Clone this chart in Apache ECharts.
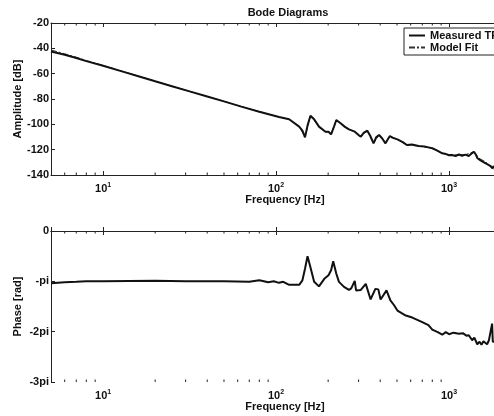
<!DOCTYPE html>
<html><head><meta charset="utf-8">
<script src="https://cdn.jsdelivr.net/npm/echarts@6/dist/echarts.min.js"></script>
<style>html,body{margin:0;padding:0;background:#fff}#c{width:494px;height:416px}</style>
</head><body><div id="c"></div>
<script>
// ---- data ----
const ampFreq = [5,6,7,8,10,13,16,20,25,32,40,50,63,80,104,119,136,142,147,152,158,166,177,193,201,208,216,223,236,250,264,285,290,300,309,322,337,350,366,380,394,410,429,442,455,470,503,540,570,610,667,720,760,800,850,914,960,1000,1040,1090,1140,1190,1247,1300,1340,1393,1430,1460,1490,1520,1560,1590,1620,1660,1700,1740,1774,1810,1850,1900];
const ampMeasured = [-42.5,-45.0,-47.6,-50.1,-53.8,-58.4,-62.0,-66.0,-69.9,-74.2,-78.0,-81.9,-86.0,-90.0,-94.2,-96.0,-101.8,-105,-110.3,-101,-93.2,-96,-101.8,-105.8,-105.8,-107.9,-102,-96.6,-99.2,-102,-104,-105.8,-104.3,-108.5,-109.7,-106.5,-105,-109,-115,-110,-108.4,-111,-115,-112,-109.2,-110.5,-111.9,-114,-116.3,-116,-117.1,-117.5,-118.2,-118.9,-120.5,-122.9,-123.5,-124.5,-124.2,-125,-123.8,-124.8,-123.9,-125,-123.5,-121.6,-124,-126.8,-125.5,-128.5,-127,-130,-129.5,-131.5,-130.5,-133,-134.7,-133,-136,-138];
const modelFreq = [5,6,7,8,10,13,16,20,25,32,40,50,63,80,104,119,136,147,158,177,193,208,223,264,285,309,337,366,394,429,455,503,570,667,800,914,1040,1247,1393,1490,1620,1774,1900];
const modelAmp = [-41.3,-44.3,-47.0,-49.6,-53.5,-58.2,-61.9,-66.0,-69.9,-74.2,-78.0,-81.9,-86.0,-90.0,-94.2,-96.0,-101.8,-110,-93.4,-101.8,-105.8,-107.9,-96.6,-104,-105.8,-109.7,-105,-115,-108.4,-115,-109.2,-111.9,-116.3,-117.1,-118.9,-122.9,-124.2,-123.9,-121.6,-126.8,-129.5,-134.7,-138];
const phaseFreq = [5,6,7,8,10,20,30,50,70,80,85,90,97,104,110,119,136,142,147,152,158,166,177,190,201,208,214,223,231,247,264,272,285,290,309,330,352,375,390,402,435,458,480,503,562,613,700,760,800,860,914,957,1000,1060,1140,1200,1260,1300,1330,1360,1400,1455,1500,1540,1580,1620,1660,1700,1740,1774,1790,1830,1900];
const phasePi = [-1.04,-1.02,-1.01,-1.0,-1.0,-0.99,-1.0,-1.0,-1.01,-0.98,-1.0,-1.02,-1.0,-1.03,-1.01,-1.07,-1.07,-0.98,-0.75,-0.5,-0.72,-1.01,-1.1,-0.95,-0.88,-0.78,-0.6,-0.85,-1.01,-1.11,-1.17,-1.14,-0.99,-1.18,-1.17,-1.05,-1.36,-1.15,-1.16,-1.36,-1.18,-1.38,-1.47,-1.58,-1.68,-1.72,-1.81,-1.87,-1.96,-2.01,-2.06,-2.01,-2.05,-2.02,-2.04,-2.03,-2.08,-2.07,-2.04,-2.17,-2.12,-2.25,-2.2,-2.26,-2.19,-2.2,-2.25,-2.17,-2.15,-1.84,-2.2,-2.22,-2.2];
const ampTicks = [-140,-120,-100,-80,-60,-40,-20];
const phaseTickLabels = ['-3pi','-2pi','-pi','0'];
const minorFreqs = [6,7,8,9,20,30,40,50,60,70,80,90,200,300,400,500,600,700,800,900];

const chart = echarts.init(document.getElementById('c'));
const FONT = 'Liberation Sans';
const txt = {fontFamily: FONT, fontWeight: 'bold', fontSize: 11, color: '#111'};
const xLab = {
  formatter: v => { const e = Math.round(Math.log10(v)); return Math.abs(Math.log10(v) - e) < 1e-6 ? '{b|10}{s|' + e + '}' : ''; },
  margin: 7,
  rich: { b: {fontFamily: FONT, fontWeight:'bold', fontSize: 11, color:'#111'}, s: {fontFamily: FONT, fontWeight:'bold', fontSize: 7, color:'#111', verticalAlign:'top', padding:[0,0,6,0]} }
};
const XMIN = 5, XMAX = 1944;
function xAx(grid, pos, withLabel, name) {
  return {
    type: 'log', logBase: 10, gridIndex: grid, position: pos, min: XMIN, max: XMAX,
    axisLine: {show: true, lineStyle: {color: '#222', width: 1}},
    axisTick: {show: true, inside: true, length: 4, lineStyle: {color: '#222'}},
    axisLabel: withLabel ? xLab : {show: false},
    splitLine: {show: false},
    name: name || '', nameLocation: 'middle', nameGap: 18,
    nameTextStyle: Object.assign({}, txt, {padding: [0, 0, 0, 20]})
  };
}
function yAx(grid, pos, cfg) {
  return Object.assign({
    type: 'value', gridIndex: grid, position: pos,
    axisLine: {show: true, lineStyle: {color: '#222', width: 1}},
    axisTick: {show: true, inside: true, length: 4, lineStyle: {color: '#222'}},
    splitLine: {show: false}
  }, cfg);
}
const minorData = minorFreqs.map(f => [f]);
function minorSeries(xi, yi, yVal, dir) {
  return {
    type: 'custom', xAxisIndex: xi, yAxisIndex: yi, silent: true, clip: false,
    data: minorData,
    renderItem: (params, api) => {
      const p = api.coord([api.value(0), yVal]);
      return {type: 'line', shape: {x1: p[0], y1: p[1], x2: p[0], y2: p[1] + dir * 2.5}, style: {stroke: '#222', lineWidth: 1}};
    }
  };
}

chart.setOption({
  animation: false,
  backgroundColor: '#fff',
  title: {text: 'Bode Diagrams', left: 283, top: 2, textAlign: 'center', textStyle: Object.assign({}, txt, {fontSize: 11})},
  legend: {
    orient: 'vertical', left: 404, top: 28,
    data: [
      {name: 'Measured TF', icon: 'path://M0,0h16v2h-16z'},
      {name: 'Model Fit', icon: 'path://M0,0h6v2h-6zM8,0h2v2h-2zM12,0h4v2h-4z'}
    ],
    backgroundColor: '#fff', borderColor: '#222', borderWidth: 1, padding: [2, 4, 2, 5],
    itemGap: 1, itemWidth: 16, itemHeight: 2,
    textStyle: Object.assign({}, txt, {fontSize: 11, lineHeight: 11})
  },
  grid: [
    {left: 51, top: 23, width: 448, height: 152, outerBoundsMode: 'none', containLabel: false},
    {left: 51, top: 231, width: 448, height: 151, outerBoundsMode: 'none', containLabel: false}
  ],
  xAxis: [
    xAx(0, 'bottom', true, 'Frequency [Hz]'),
    xAx(0, 'top', false),
    xAx(1, 'bottom', true, 'Frequency [Hz]'),
    xAx(1, 'top', false)
  ],
  yAxis: [
    yAx(0, 'left', {min: ampTicks[0], max: ampTicks[ampTicks.length-1], interval: 20, name: 'Amplitude [dB]', nameLocation: 'middle', nameGap: 28, nameMoveOverlap: false, nameTextStyle: txt, axisLabel: Object.assign({margin: 2}, txt)}),
    yAx(0, 'right', {min: ampTicks[0], max: ampTicks[ampTicks.length-1], interval: 20, axisLabel: {show: false}}),
    yAx(1, 'left', {min: -3, max: 0, interval: 1, name: 'Phase [rad]', nameLocation: 'middle', nameGap: 28, nameMoveOverlap: false, nameTextStyle: txt, axisLabel: Object.assign({margin: 2, formatter: v => phaseTickLabels[Math.round(v) + 3]}, txt)}),
    yAx(1, 'right', {min: -3, max: 0, interval: 1, axisLabel: {show: false}})
  ],
  series: [
    {name: 'Model Fit', type: 'line', xAxisIndex: 0, yAxisIndex: 0, showSymbol: false, symbol: 'none',
     data: modelFreq.map((f, i) => [f, modelAmp[i]]), lineStyle: {color: '#333', width: 1, type: [6, 2, 2, 2]}, itemStyle: {color: '#333'}, z: 2},
    {name: 'Measured TF', type: 'line', xAxisIndex: 0, yAxisIndex: 0, showSymbol: false, symbol: 'none',
     data: ampFreq.map((f, i) => [f, ampMeasured[i]]), lineStyle: {color: '#111', width: 2}, itemStyle: {color: '#111'}, z: 3},
    {name: 'Phase', type: 'line', xAxisIndex: 2, yAxisIndex: 2, showSymbol: false, symbol: 'none',
     data: phaseFreq.map((f, i) => [f, phasePi[i]]), lineStyle: {color: '#111', width: 2}, z: 3},
    minorSeries(0, 0, ampTicks[0], -1),
    minorSeries(0, 0, ampTicks[ampTicks.length-1], 1),
    minorSeries(2, 2, -3, -1),
    minorSeries(2, 2, 0, 1)
  ]
});
</script></body></html>
